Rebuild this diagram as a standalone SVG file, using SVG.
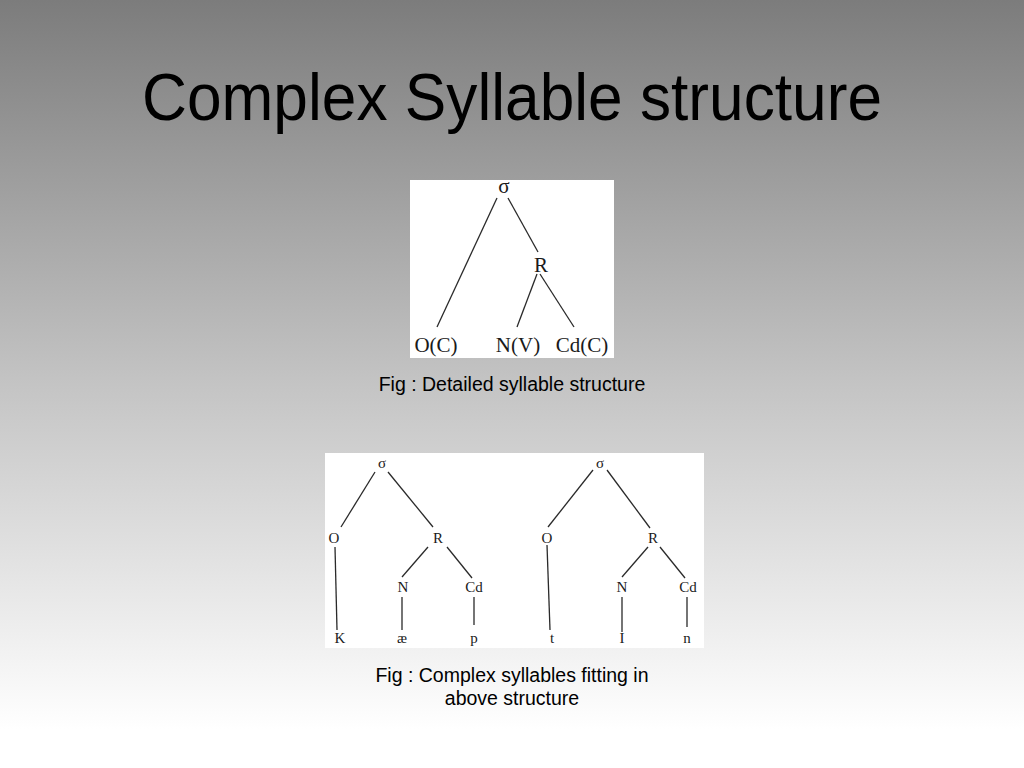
<svg xmlns="http://www.w3.org/2000/svg" width="1024" height="768" viewBox="0 0 1024 768">
  <defs>
    <linearGradient id="bg" x1="0" y1="0" x2="0" y2="1">
      <stop offset="0" stop-color="#7c7c7c"/>
      <stop offset="0.5" stop-color="#c4c4c4"/>
      <stop offset="0.95" stop-color="#ffffff"/>
      <stop offset="1" stop-color="#ffffff"/>
    </linearGradient>
    <style>
      .title { font-family: "Liberation Sans", Arial, sans-serif; font-size: 66px; fill: #000; }
      .cap { font-family: "Liberation Sans", Arial, sans-serif; font-size: 19.5px; fill: #000; text-anchor: middle; }
      .lbl { font-family: "Liberation Serif", "DejaVu Serif", serif; font-size: 21px; fill: #1a1a1a; text-anchor: middle; }
      .sm { font-family: "Liberation Serif", "DejaVu Serif", serif; font-size: 15px; fill: #1a1a1a; text-anchor: middle; }
      .edge { stroke: #2a2a2a; stroke-width: 1.3; fill: none; }
      .panel { fill: #ffffff; }
    </style>
  </defs>

  <rect x="0" y="0" width="1024" height="768" fill="url(#bg)"/>

  <text class="title" x="142" y="120" textLength="740" lengthAdjust="spacingAndGlyphs">Complex Syllable structure</text>

  <!-- Panel 1 -->
  <rect class="panel" x="410" y="180" width="204" height="178"/>
  <g id="connectors-1">
    <line class="edge" x1="497" y1="198" x2="437" y2="327"/>
    <line class="edge" x1="508" y1="198" x2="538" y2="252"/>
    <line class="edge" x1="537" y1="274" x2="517" y2="327"/>
    <line class="edge" x1="540" y1="274" x2="574" y2="327"/>
  </g>
  <g id="p1-sigma"><text class="lbl" x="504" y="193">σ</text></g>
  <g id="p1-R"><text class="lbl" x="541" y="272">R</text></g>
  <g id="p1-OC"><text class="lbl" x="436" y="352">O(C)</text></g>
  <g id="p1-NV"><text class="lbl" x="518" y="352">N(V)</text></g>
  <g id="p1-CdC"><text class="lbl" x="582" y="352">Cd(C)</text></g>

  <text class="cap" x="512" y="391">Fig : Detailed syllable structure</text>

  <!-- Panel 2 -->
  <rect class="panel" x="325" y="453" width="379" height="195"/>
  <g id="connectors-2">
    <line class="edge" x1="375" y1="472" x2="341" y2="527"/>
    <line class="edge" x1="388" y1="472" x2="433" y2="527"/>
    <line class="edge" x1="335" y1="547" x2="337" y2="630"/>
    <line class="edge" x1="428" y1="547" x2="402" y2="577"/>
    <line class="edge" x1="447" y1="547" x2="472" y2="578"/>
    <line class="edge" x1="402" y1="597" x2="402" y2="630"/>
    <line class="edge" x1="474" y1="597" x2="474" y2="625"/>

    <line class="edge" x1="593" y1="470" x2="548" y2="527"/>
    <line class="edge" x1="607" y1="470" x2="650" y2="528"/>
    <line class="edge" x1="547" y1="545" x2="550" y2="630"/>
    <line class="edge" x1="648" y1="547" x2="622" y2="577"/>
    <line class="edge" x1="660" y1="547" x2="685" y2="578"/>
    <line class="edge" x1="622" y1="597" x2="622" y2="632"/>
    <line class="edge" x1="687" y1="597" x2="687" y2="627"/>
  </g>
  <g id="t1-sigma"><text class="sm" x="382" y="468">σ</text></g>
  <g id="t1-O"><text class="sm" x="334" y="543">O</text></g>
  <g id="t1-R"><text class="sm" x="438" y="543">R</text></g>
  <g id="t1-N"><text class="sm" x="403" y="592">N</text></g>
  <g id="t1-Cd"><text class="sm" x="474" y="592">Cd</text></g>
  <g id="t1-K"><text class="sm" x="340" y="643">K</text></g>
  <g id="t1-ae"><text class="sm" x="402" y="643">æ</text></g>
  <g id="t1-p"><text class="sm" x="474" y="643">p</text></g>

  <g id="t2-sigma"><text class="sm" x="600" y="468">σ</text></g>
  <g id="t2-O"><text class="sm" x="547" y="543">O</text></g>
  <g id="t2-R"><text class="sm" x="653" y="543">R</text></g>
  <g id="t2-N"><text class="sm" x="622" y="592">N</text></g>
  <g id="t2-Cd"><text class="sm" x="688" y="592">Cd</text></g>
  <g id="t2-t"><text class="sm" x="552" y="643">t</text></g>
  <g id="t2-I"><text class="sm" x="622" y="643">I</text></g>
  <g id="t2-n"><text class="sm" x="687" y="643">n</text></g>

  <text class="cap" x="512" y="682">Fig : Complex syllables fitting in</text>
  <text class="cap" x="512" y="705">above structure</text>
</svg>
